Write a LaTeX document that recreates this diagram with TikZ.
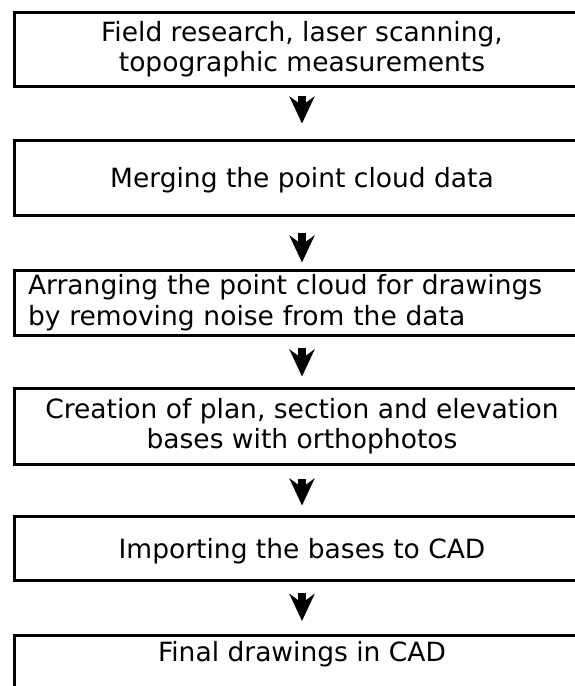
\documentclass[tikz,border=0pt]{standalone}
\usepackage{fontspec}
\setmainfont{DejaVu Sans}
\usetikzlibrary{arrows.meta,positioning}
\tikzstyle{stepbox} = [draw, line width=3pt, minimum width=576pt, inner sep=0pt, align=center, font=\fontsize{26.5}{30.5}\selectfont]
\tikzstyle{flow} = [line width=8pt, -{Stealth[length=27pt,width=25pt,inset=9pt]}]

\begin{document}
\begin{tikzpicture}[x=1pt,y=-1pt]
\useasboundingbox (0,0) rectangle (575,686);
\clip (0,0) rectangle (575,686);

% Steps (right side runs off the page)
\node[stepbox, minimum height=74pt] (b1) at (302,49) {Field research, laser scanning,\\topographic measurements};
\node[stepbox, minimum height=75pt, text height=23pt, text depth=3pt] (b2) at (302,177.5) {Merging the point cloud data};
\node[stepbox, minimum height=65pt, text width=548pt, align=left] (b3) at (302,302.5) {Arranging the point cloud for drawings\\by removing noise from the data};
\node[stepbox, minimum height=76pt] (b4) at (302,426) {Creation of plan, section and elevation\\bases with orthophotos};
\node[stepbox, minimum height=64pt, text height=23pt, text depth=3pt] (b5) at (302,548) {Importing the bases to CAD};
\node[stepbox, anchor=north, inner ysep=6pt, text height=20pt, text depth=45pt] (b6) at (302,634) {Final drawings in CAD};

% Arrows
\draw[flow] ([yshift=-8pt]b1.south) -- ([yshift=15pt]b2.north);
\draw[flow] ([yshift=-16pt]b2.south) -- ([yshift=6pt]b3.north);
\draw[flow] ([yshift=-11pt]b3.south) -- ([yshift=10pt]b4.north);
\draw[flow] ([yshift=-13pt]b4.south) -- ([yshift=9pt]b5.north);
\draw[flow] ([yshift=-11pt]b5.south) -- ([yshift=13pt]b6.north);
\end{tikzpicture}
\end{document}
